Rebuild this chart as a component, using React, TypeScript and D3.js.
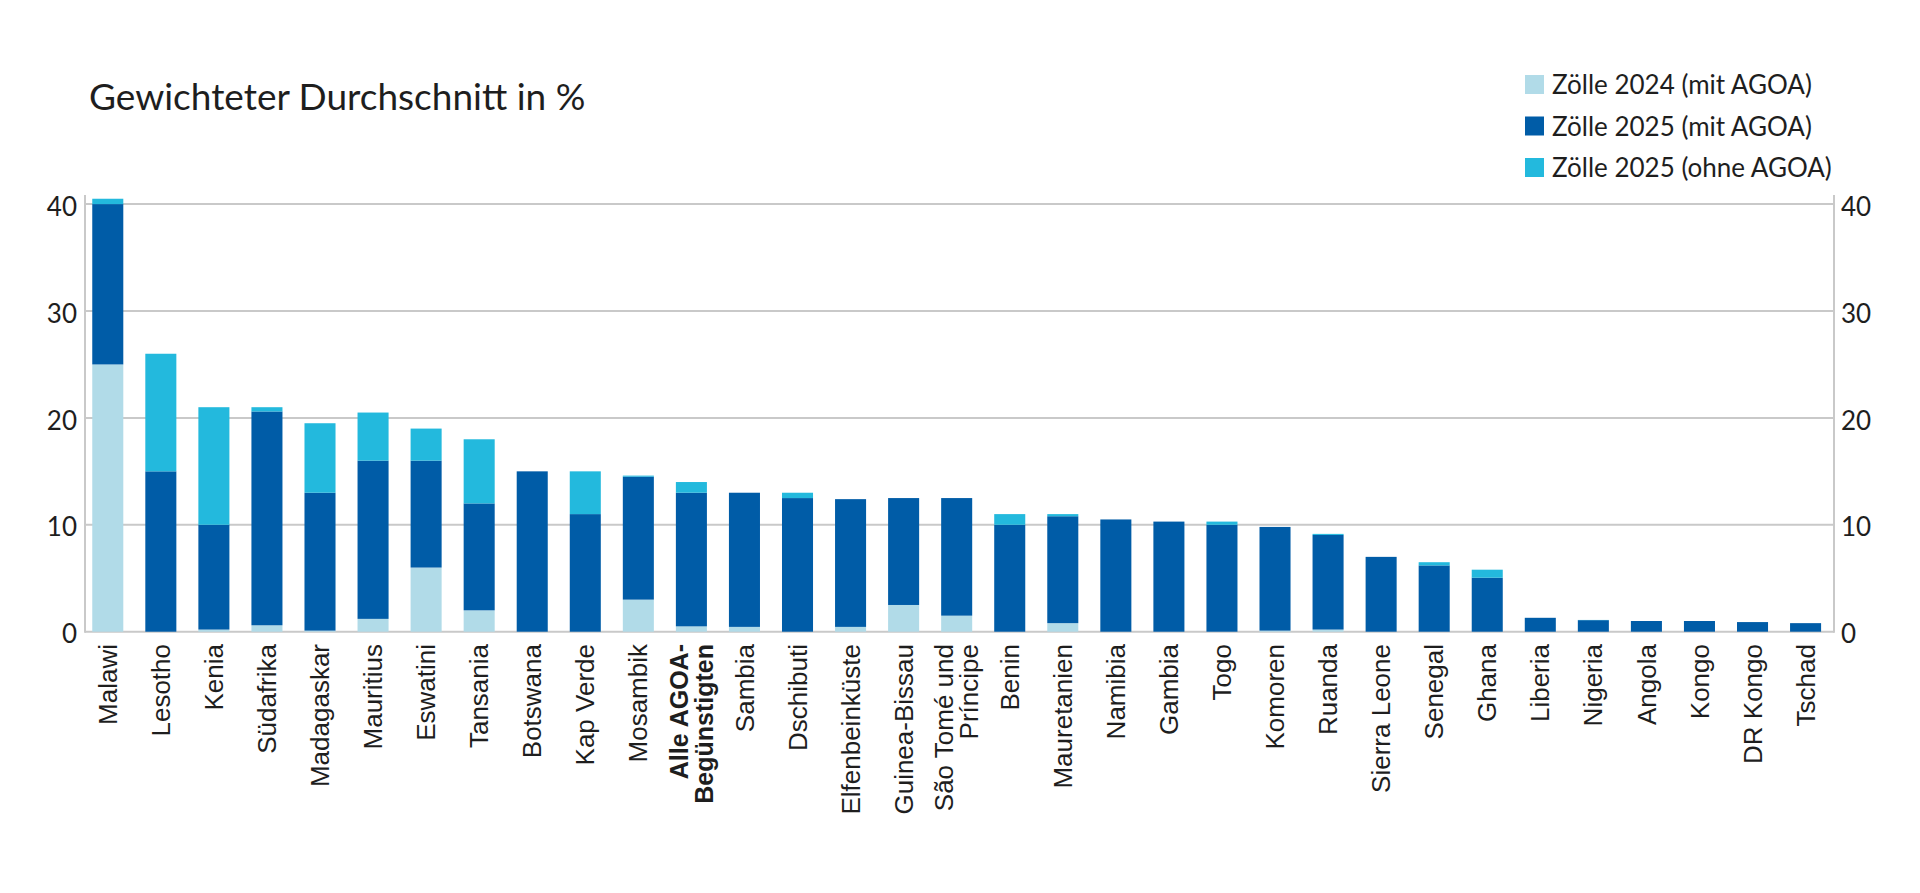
import React from "react";
import * as d3 from "d3";

const categories: string[] = [
  "Malawi", "Lesotho", "Kenia", "Südafrika", "Madagaskar", "Mauritius", "Eswatini",
  "Tansania", "Botswana", "Kap Verde", "Mosambik", "Alle AGOA-\nBegünstigten", "Sambia",
  "Dschibuti", "Elfenbeinküste", "Guinea-Bissau", "São Tomé und\nPríncipe", "Benin",
  "Mauretanien", "Namibia", "Gambia", "Togo", "Komoren", "Ruanda", "Sierra Leone",
  "Senegal", "Ghana", "Liberia", "Nigeria", "Angola", "Kongo", "DR Kongo", "Tschad",
];
const boldCategories: string[] = ["Alle AGOA-\nBegünstigten"];

// Zölle 2024 (mit AGOA)
const tariff2024: number[] = [
  25, 0, 0.2, 0.6, 0.1, 1.2, 6, 2, 0, 0, 3, 0.5, 0.45, 0, 0.45, 2.5, 1.5, 0,
  0.8, 0, 0, 0, 0.1, 0.2, 0, 0, 0, 0, 0, 0, 0, 0, 0,
];
// Zölle 2025 (mit AGOA) – total level
const tariff2025With: number[] = [
  40, 15, 10, 20.6, 13, 16, 16, 12, 15, 11, 14.5, 13, 13, 12.5, 12.4, 12.5, 12.5, 10,
  10.8, 10.5, 10.3, 10, 9.8, 9.05, 7, 6.2, 5.05, 1.3, 1.08, 1.0, 1.0, 0.9, 0.8,
];
// Zölle 2025 (ohne AGOA) – total level
const tariff2025Without: number[] = [
  40.5, 26, 21, 21, 19.5, 20.5, 19, 18, 15, 15, 14.6, 14, 13, 13, 12.4, 12.5, 12.5, 11,
  11, 10.5, 10.3, 10.3, 9.8, 9.15, 7, 6.5, 5.8, 1.3, 1.1, 1.0, 1.0, 0.9, 0.8,
];

const yTicks: number[] = [0, 10, 20, 30, 40];
const seriesNames: string[] = ["Zölle 2024 (mit AGOA)", "Zölle 2025 (mit AGOA)", "Zölle 2025 (ohne AGOA)"];
const seriesColors: string[] = ["#b1dbe8", "#005ca7", "#23b9dd"];

const W = 1920;
const H = 893;
const LEFT = 85;
const RIGHT = 1834;
const BASE = 631.7;
const TOP = 195;

export default function App() {
  const x = d3
    .scaleBand<string>()
    .domain(categories)
    .range([LEFT, RIGHT])
    .paddingInner(0.415)
    .paddingOuter(0.19)
    .align(0.36);
  const y = d3.scaleLinear().domain([0, 40.85]).range([BASE, TOP]);

  const segs = categories.map((c, i) => {
    const a = tariff2024[i];
    const b = tariff2025With[i];
    const t = tariff2025Without[i];
    return [
      { lo: 0, hi: a, color: seriesColors[0] },
      { lo: a, hi: b, color: seriesColors[1] },
      { lo: b, hi: t, color: seriesColors[2] },
    ];
  });

  const gridColor = "#c9c9c9";
  const textColor = "#1e1e1e";
  const tickFont = "Lato, 'Open Sans', sans-serif";

  return (
    <svg
      width={W}
      height={H}
      style={{ position: "absolute", left: 0, top: 0, display: "block", background: "#fff" }}
    >
      <rect x={0} y={0} width={W} height={H} fill="#fff" />
      {/* Title */}
      <text x={89} y={110} fontFamily={tickFont} fontSize={37} fill={textColor}>
        Gewichteter Durchschnitt in %
      </text>

      {/* Legend */}
      {seriesNames.map((s, i) => (
        <g key={s} transform={`translate(1525, ${75 + i * 41.5})`}>
          <rect x={0} y={0} width={19} height={19} fill={seriesColors[i]} />
          <text x={27} y={19} fontFamily={tickFont} fontSize={26} fill={textColor}>
            {s}
          </text>
        </g>
      ))}

      {/* Gridlines */}
      {yTicks.map((t) => (
        <line key={t} x1={LEFT} x2={RIGHT} y1={y(t)} y2={y(t)} stroke={gridColor} strokeWidth={2} />
      ))}
      {/* Axes */}
      <line x1={LEFT} x2={LEFT} y1={TOP} y2={BASE + 1} stroke={gridColor} strokeWidth={2} />
      <line x1={RIGHT} x2={RIGHT} y1={TOP} y2={BASE + 1} stroke={gridColor} strokeWidth={2} />

      {/* Tick labels */}
      {yTicks.map((t) => (
        <g key={"l" + t}>
          <text x={77} y={y(t)} dy="0.45em" textAnchor="end" fontFamily={tickFont} fontSize={26} fill={textColor}>
            {t}
          </text>
          <text x={1841} y={y(t)} dy="0.45em" textAnchor="start" fontFamily={tickFont} fontSize={26} fill={textColor}>
            {t}
          </text>
        </g>
      ))}

      {/* Bars */}
      {categories.map((c, i) => (
        <g key={c}>
          {segs[i]
            .filter((s) => s.hi > s.lo)
            .map((s, j) => (
              <rect
                key={j}
                x={x(c)}
                width={x.bandwidth()}
                y={y(s.hi)}
                height={y(s.lo) - y(s.hi)}
                fill={s.color}
              />
            ))}
        </g>
      ))}

      {/* X labels */}
      {categories.map((c) => {
        const cx = (x(c) ?? 0) + x.bandwidth() / 2;
        const lines = c.split("\n");
        const bold = boldCategories.includes(c);
        const lh = 25;
        return lines.map((ln, k) => {
          const off = (k - (lines.length - 1) / 2) * lh;
          const px = cx + off;
          return (
            <text
              key={c + k}
              transform={`translate(${px}, 644) rotate(-90)`}
              dy="0.35em"
              textAnchor="end"
              fontFamily="'Liberation Sans', Arial, sans-serif"
              fontSize={bold ? 25 : 26}
              fontWeight={bold ? "bold" : "normal"}
              fill={textColor}
            >
              {ln}
            </text>
          );
        });
      })}
    </svg>
  );
}
